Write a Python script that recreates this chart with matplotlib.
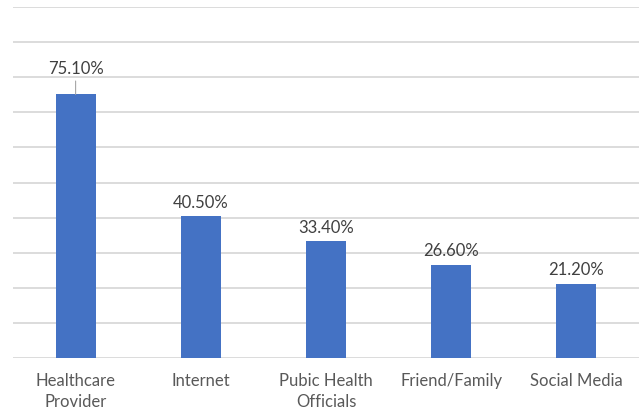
import matplotlib.pyplot as plt

categories = ["Healthcare\nProvider", "Internet", "Pubic Health\nOfficials", "Friend/Family", "Social Media"]
values = [75.1, 40.5, 33.4, 26.6, 21.2]
value_labels = ["75.10%", "40.50%", "33.40%", "26.60%", "21.20%"]

plt.rcParams['font.family'] = ['Lato', 'DejaVu Sans']

fig = plt.figure(figsize=(6.39, 4.12), dpi=100)
ax = fig.add_axes([13 / 639, 1 - 358 / 412, 626 / 639, 351 / 412])

x = list(range(len(categories)))
ax.bar(x, values, width=0.32, color="#4472C4", zorder=3)

ax.set_xlim(-0.5, len(categories) - 0.5)
ax.set_ylim(0, 100)
ax.set_yticks(range(0, 101, 10))
ax.yaxis.grid(True, color="#D9D9D9", linewidth=1.3, zorder=0)
ax.tick_params(axis="y", left=False, labelleft=False)
ax.tick_params(axis="x", length=0, pad=11, labelsize=12, labelcolor="#595959")
ax.set_xticks(x)
ax.set_xticklabels(categories, linespacing=1.35)
for s in ax.spines.values():
    s.set_visible(False)

for i, (v, lab) in enumerate(zip(values, value_labels)):
    if i == 0:
        # label moved above with leader line
        ax.annotate(lab, xy=(i, v), xytext=(i, v + 5), ha="center", va="bottom",
                    fontsize=12, color="#404040",
                    arrowprops=dict(arrowstyle="-", color="#A6A6A6", lw=0.8,
                                    shrinkA=1, shrinkB=0))
    else:
        ax.text(i, v + 1.5, lab, ha="center", va="bottom", fontsize=12, color="#404040")

fig.savefig("out.png", dpi=100)
